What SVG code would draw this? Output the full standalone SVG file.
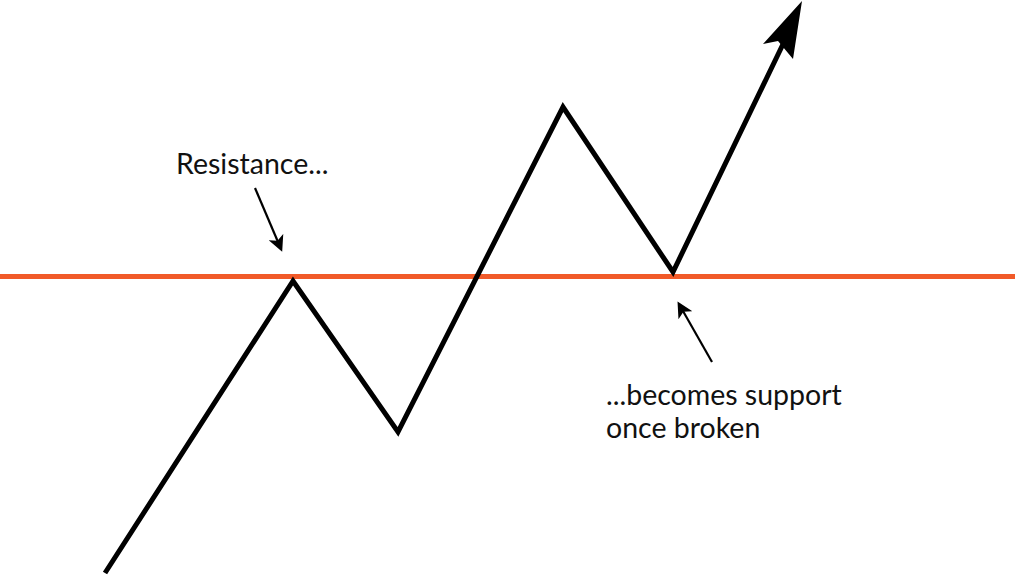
<svg xmlns="http://www.w3.org/2000/svg" width="1024" height="577" viewBox="0 0 1024 577">
<style>
.lbl{font-family:Lato,"Liberation Sans",sans-serif;font-size:28.5px;fill:#111}
.price{fill:none;stroke:#000;stroke-width:5;stroke-linejoin:miter}
.thin{fill:none;stroke:#000;stroke-width:2.2}
</style>
<defs>
<marker id="ah" markerWidth="16" markerHeight="16" refX="13" refY="8" orient="auto" markerUnits="userSpaceOnUse" viewBox="0 0 16 16">
<path d="M0,0 L16,8 L0,16 L4,8 Z" fill="#000"/>
</marker>
</defs>
<rect width="1024" height="577" fill="#fff"/>
<g id="level">
<line x1="0" y1="276.500" x2="1015" y2="276.500" stroke="#f15a29" stroke-width="5"/>
</g>
<g id="price">
<polyline class="price" points="105,573 293,281 398,432 563,107 673,272 785,40"/>
<polygon points="802,1 763,44 778,41 793,59" fill="#000"/>
</g>
<g id="connectors">
<line class="thin" x1="255" y1="188" x2="281" y2="249" marker-end="url(#ah)"/>
<line class="thin" x1="712" y1="362" x2="679" y2="304" marker-end="url(#ah)"/>
</g>
<g id="resistance-label"><text class="lbl" x="176" y="174">Resistance...</text></g>
<g id="support-label">
<text class="lbl" x="606" y="405">...becomes support</text>
<text class="lbl" x="606" y="438">once broken</text>
</g>
</svg>
